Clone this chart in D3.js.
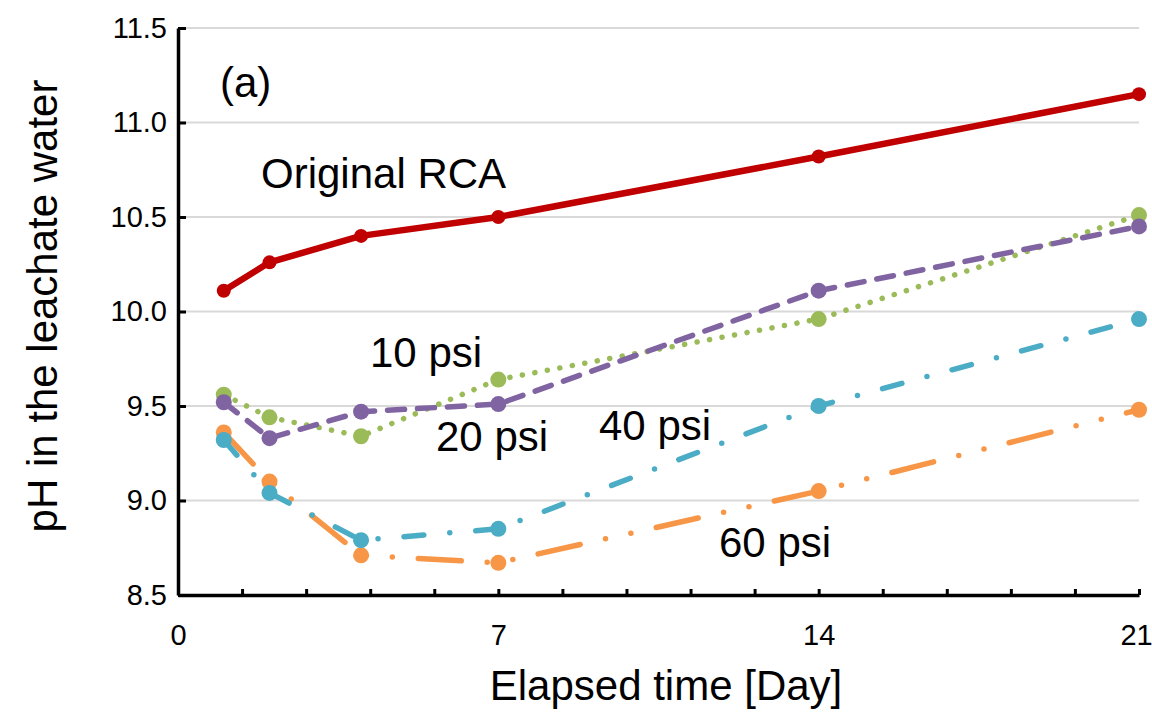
<!DOCTYPE html>
<html>
<head>
<meta charset="utf-8">
<script src="https://cdn.jsdelivr.net/npm/d3@7"></script>
<style>
  html, body { margin: 0; padding: 0; background: #fff; }
  svg { display: block; font-family: "Liberation Sans", Arial, sans-serif; }
</style>
</head>
<body>
<svg id="chart" width="1152" height="715"></svg>
<script>
// Leachate pH versus elapsed time for RCA samples
const days = [1, 2, 4, 7, 14, 21];
const originalRCA = [10.11, 10.26, 10.40, 10.50, 10.82, 11.15];
const psi10 = [9.56, 9.44, 9.34, 9.64, 9.96, 10.51];
const psi20 = [9.52, 9.33, 9.47, 9.51, 10.11, 10.45];
const psi40 = [9.32, 9.04, 8.79, 8.85, 9.50, 9.96];
const psi60 = [9.36, 9.10, 8.71, 8.67, 9.05, 9.48];

const yTicks = [8.5, 9.0, 9.5, 10.0, 10.5, 11.0, 11.5];
const xTickLabels = [0, 7, 14, 21];
const xMinorStep = 1.4;

const seriesNames = ["Original RCA", "10 psi", "20 psi", "60 psi", "40 psi"];

const svg = d3.select("#chart");
const plotLeft = 178, plotRight = 1139, plotTop = 28, plotBottom = 595;

const x = d3.scaleLinear().domain([0, 21]).range([plotLeft, plotRight]);
const y = d3.scaleLinear().domain([8.5, 11.5]).range([plotBottom, plotTop]);

// horizontal gridlines
svg.append("g")
  .selectAll("line")
  .data(yTicks.filter(v => v > 8.5))
  .join("line")
  .attr("x1", plotLeft).attr("x2", plotRight)
  .attr("y1", d => y(d)).attr("y2", d => y(d))
  .attr("stroke", "#d9d9d9").attr("stroke-width", 2);

const series = [
  { name: seriesNames[0], values: originalRCA, color: "#c00000", width: 6.5, r: 7, dash: null },
  { name: seriesNames[1], values: psi10, color: "#9bbb59", width: 5.5, r: 8, dash: "0.1 12.6" },
  { name: seriesNames[2], values: psi20, color: "#8064a2", width: 5.5, r: 8, dash: "17 13" },
  { name: seriesNames[3], values: psi60, color: "#f79646", width: 5.5, r: 8, dash: "43 26 0 26 0 26" },
  { name: seriesNames[4], values: psi40, color: "#4bacc6", width: 5.5, r: 8, dash: "20 26 0 26" }
];

const line = d3.line().x(d => x(d[0])).y(d => y(d[1]));

const plot = svg.append("g");
series.forEach(s => {
  const pts = days.map((d, i) => [d, s.values[i]]);
  plot.append("path")
    .datum(pts)
    .attr("d", line)
    .attr("fill", "none")
    .attr("stroke", s.color)
    .attr("stroke-width", s.width)
    .attr("stroke-linecap", "round")
    .attr("stroke-linejoin", "round")
    .attr("stroke-dasharray", s.dash);
  plot.append("g")
    .selectAll("circle")
    .data(pts)
    .join("circle")
    .attr("cx", d => x(d[0]))
    .attr("cy", d => y(d[1]))
    .attr("r", s.r)
    .attr("fill", s.color);
});

// y axis with inward ticks
const yAxis = d3.axisLeft(y)
  .tickValues(yTicks)
  .tickSizeInner(-8)
  .tickSizeOuter(0)
  .tickPadding(11)
  .tickFormat(d3.format(".1f"));
const gy = svg.append("g").attr("transform", `translate(${plotLeft},0)`).call(yAxis);
gy.select(".domain").attr("stroke", "#000").attr("stroke-width", 3.5);
gy.selectAll(".tick line").attr("stroke", "#000").attr("stroke-width", 3);
gy.selectAll(".tick text")
  .attr("font-size", 29).attr("fill", "#000")
  .attr("font-family", "Liberation Sans, Arial, sans-serif");

// x axis: minor ticks every 1.4 days, labels every 7
const minorVals = d3.range(0, 21 + 1e-9, xMinorStep).map(v => +v.toFixed(2));
const xAxis = d3.axisBottom(x)
  .tickValues(minorVals)
  .tickSizeInner(-6)
  .tickSizeOuter(0)
  .tickPadding(29)
  .tickFormat(d => xTickLabels.some(t => Math.abs(t - d) < 1e-6) ? d3.format("d")(d) : "");
const gx = svg.append("g").attr("transform", `translate(0,${plotBottom})`).call(xAxis);
gx.select(".domain").attr("stroke", "#000").attr("stroke-width", 3.5);
gx.selectAll(".tick line").attr("stroke", "#000").attr("stroke-width", 3);
gx.selectAll(".tick text")
  .attr("font-size", 29).attr("fill", "#000")
  .attr("font-family", "Liberation Sans, Arial, sans-serif")
  .attr("dx", d => Math.abs(d - 21) < 1e-6 ? -3 : 0);

// axis titles
svg.append("text")
  .attr("x", 666).attr("y", 700)
  .attr("text-anchor", "middle")
  .attr("font-size", 42)
  .text("Elapsed time [Day]");

svg.append("text")
  .attr("transform", `translate(57,306) rotate(-90)`)
  .attr("text-anchor", "middle")
  .attr("font-size", 42)
  .text("pH in the leachate water");

// panel tag and series annotations
const notes = [
  { text: "(a)", x: 220, y: 97 },
  { text: seriesNames[0], x: 261, y: 188 },
  { text: seriesNames[1], x: 370, y: 367 },
  { text: seriesNames[2], x: 436, y: 451 },
  { text: seriesNames[4], x: 599, y: 440 },
  { text: seriesNames[3], x: 719, y: 557 }
];
svg.append("g")
  .selectAll("text")
  .data(notes)
  .join("text")
  .attr("x", d => d.x).attr("y", d => d.y)
  .attr("font-size", 42)
  .attr("fill", "#000")
  .text(d => d.text);
</script>
</body>
</html>
